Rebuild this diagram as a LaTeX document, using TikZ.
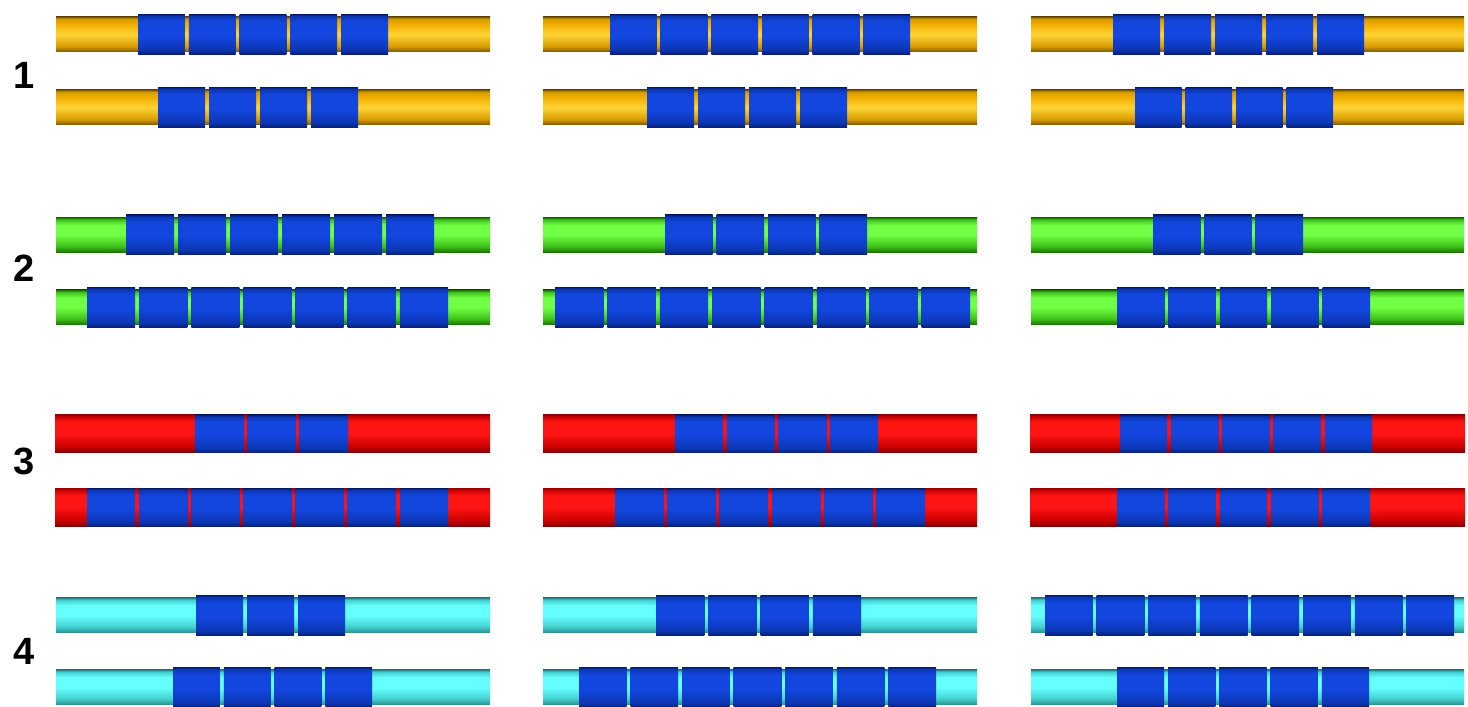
\documentclass[tikz,border=0pt]{standalone}
\usepackage{fontspec}
\setmainfont{Liberation Sans}
\definecolor{gB}{HTML}{7A5600}
\definecolor{gD}{HTML}{D79C00}
\definecolor{gM}{HTML}{FFD436}
\definecolor{gU}{HTML}{F2B000}
\definecolor{gT}{HTML}{7F5C00}
\definecolor{grB}{HTML}{1C6E00}
\definecolor{grD}{HTML}{3FC21A}
\definecolor{grM}{HTML}{70FF44}
\definecolor{rB}{HTML}{7E0000}
\definecolor{rD}{HTML}{C80000}
\definecolor{rM}{HTML}{FF1414}
\definecolor{rT}{HTML}{A00000}
\definecolor{cB}{HTML}{2A8C8C}
\definecolor{cD}{HTML}{44D0D0}
\definecolor{cM}{HTML}{66FFFF}
\definecolor{bB}{HTML}{081F78}
\definecolor{bD}{HTML}{0C36B4}
\definecolor{bM}{HTML}{1246DE}
\definecolor{gapgold}{HTML}{C8DCA0}
\pgfdeclareverticalshading{goldbar}{100bp}{color(0bp)=(gB); color(25bp)=(gB); color(33bp)=(gD); color(50bp)=(gM); color(64bp)=(gU); color(72bp)=(gD); color(75bp)=(gT); color(100bp)=(gT)}
\pgfdeclareverticalshading{greenbar}{100bp}{color(0bp)=(grB); color(25bp)=(grB); color(34bp)=(grD); color(50bp)=(grM); color(64bp)=(grM); color(72bp)=(grD); color(75bp)=(grB); color(100bp)=(grB)}
\pgfdeclareverticalshading{redbar}{100bp}{color(0bp)=(rB); color(25bp)=(rB); color(33bp)=(rD); color(50bp)=(rM); color(66bp)=(rM); color(73bp)=(rD); color(75bp)=(rT); color(100bp)=(rT)}
\pgfdeclareverticalshading{cyanbar}{100bp}{color(0bp)=(cB); color(25bp)=(cB); color(34bp)=(cD); color(50bp)=(cM); color(64bp)=(cM); color(72bp)=(cD); color(75bp)=(cB); color(100bp)=(cB)}
\pgfdeclareverticalshading{blueblk}{100bp}{color(0bp)=(bB); color(25bp)=(bB); color(31bp)=(bD); color(48bp)=(bM); color(66bp)=(bM); color(73bp)=(bD); color(75bp)=(bB); color(100bp)=(bB)}
\tikzset{numlabel/.style={font=\fontsize{19}{19}\selectfont\bfseries, inner sep=0pt}}
% #1 y-centre (px from top), #2 x1, #3 x2, #4 shading, #5 block start, #6 block end, #7 count, #8 half bar height, #9 half block height
\newcommand\gbar[9]{%
  \pgfmathsetmacro\yc{707-#1}%
  \shade[shading=#4] (#2,\yc-#8) rectangle (#3,\yc+#8);
  \pgfmathsetmacro\pp{(#6-#5+4)/#7}%
  \foreach \k in {1,...,#7}{%
    \shade[shading=blueblk] ({#5+(\k-1)*\pp},\yc-#9) rectangle ({#5+\k*\pp-4},\yc+#9);
  }%
}
\begin{document}
\begin{tikzpicture}[x=0.5pt,y=0.5pt]
\useasboundingbox[fill=white] (0,0) rectangle (1468,707);
% labels
\node[numlabel] (l1) at (24,632) {1};
\node[numlabel] (l2) at (24,439) {2};
\node[numlabel] (l3) at (24,246) {3};
\node[numlabel] (l4) at (24,56) {4};
% group 1
\gbar{34.5}{56}{490}{goldbar}{138}{388}{5}{17.5}{20}
\gbar{107.5}{56}{490}{goldbar}{158}{358}{4}{17.5}{20}
\gbar{34.5}{543}{977}{goldbar}{610}{910}{6}{17.5}{20}
\gbar{107.5}{543}{977}{goldbar}{647}{847}{4}{17.5}{20}
\gbar{34.5}{1031}{1464}{goldbar}{1113}{1364}{5}{17.5}{20}
\gbar{107.5}{1031}{1464}{goldbar}{1135}{1333}{4}{17.5}{20}
% group 2
\gbar{235}{56}{490}{greenbar}{126}{434}{6}{17.5}{20}
\gbar{307.5}{56}{490}{greenbar}{87}{448}{7}{17.5}{20}
\gbar{235}{543}{977}{greenbar}{665}{867}{4}{17.5}{20}
\gbar{307.5}{543}{977}{greenbar}{555}{970}{8}{17.5}{20}
\gbar{235}{1031}{1464}{greenbar}{1153}{1303}{3}{17.5}{20}
\gbar{307.5}{1031}{1464}{greenbar}{1117}{1370}{5}{17.5}{20}
% group 3
\gbar{434}{55}{490}{redbar}{195}{348}{3}{19}{19}
\gbar{507.5}{55}{490}{redbar}{87}{448}{7}{19}{19}
\gbar{434}{543}{977}{redbar}{675}{878}{4}{19}{19}
\gbar{507.5}{543}{977}{redbar}{615}{925}{6}{19}{19}
\gbar{434}{1030}{1465}{redbar}{1120}{1372}{5}{19}{19}
\gbar{507.5}{1030}{1465}{redbar}{1117}{1370}{5}{19}{19}
% group 4
\gbar{615.5}{56}{490}{cyanbar}{196}{345}{3}{17.5}{20}
\gbar{687.5}{56}{490}{cyanbar}{173}{372}{4}{17.5}{20}
\gbar{615.5}{543}{977}{cyanbar}{656}{861}{4}{17.5}{20}
\gbar{687.5}{543}{977}{cyanbar}{579}{936}{7}{17.5}{20}
\gbar{615.5}{1031}{1464}{cyanbar}{1045}{1454}{8}{17.5}{20}
\gbar{687.5}{1031}{1464}{cyanbar}{1117}{1369}{5}{17.5}{20}
\end{tikzpicture}
\end{document}
